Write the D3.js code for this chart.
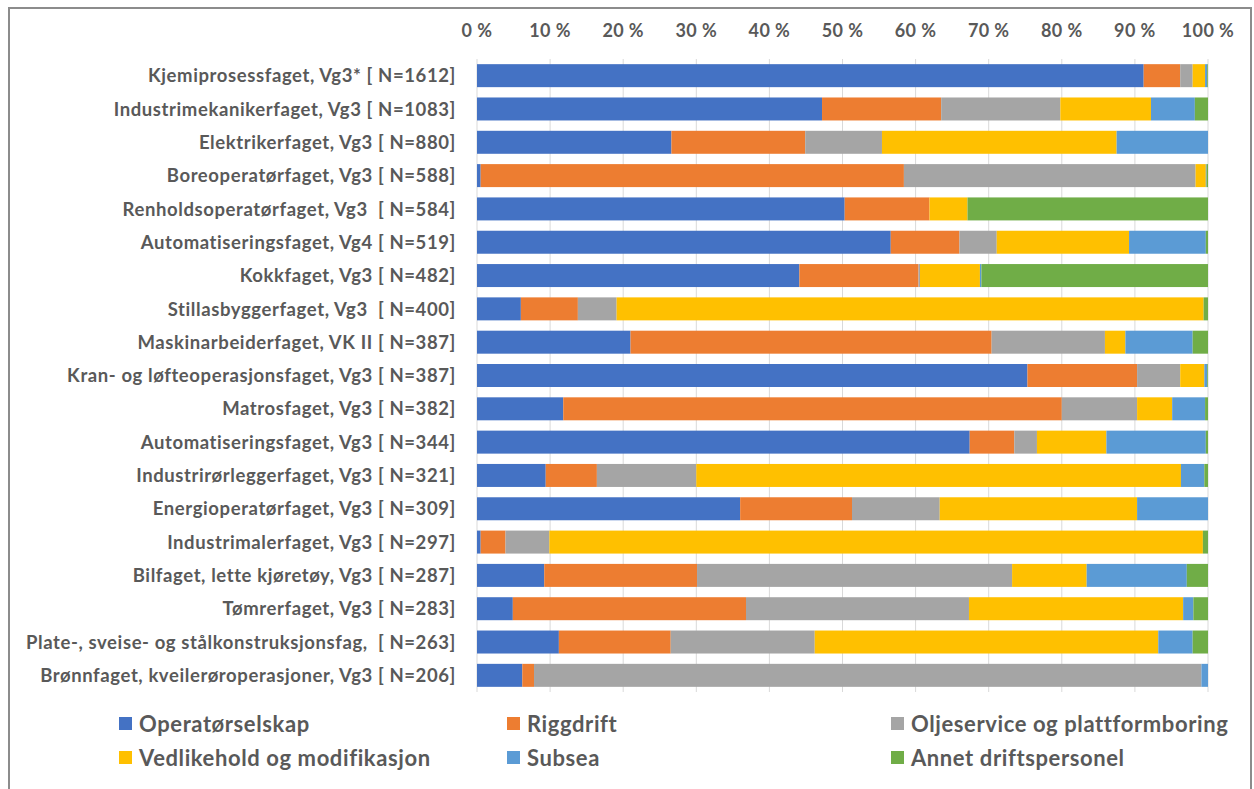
<!DOCTYPE html>
<html>
<head>
<meta charset="utf-8">
<script src="https://cdn.jsdelivr.net/npm/d3@7"></script>
<style>
  body { margin: 0; background: #fff; }
  svg text { font-family: Lato, "Open Sans", sans-serif; font-weight: 700; }
</style>
</head>
<body>
<svg id="chart" width="1254" height="789"></svg>
<script>
// categories (top to bottom)
var categories = [
  "Kjemiprosessfaget, Vg3* [ N=1612]",
  "Industrimekanikerfaget, Vg3 [ N=1083]",
  "Elektrikerfaget, Vg3 [ N=880]",
  "Boreoperatørfaget, Vg3 [ N=588]",
  "Renholdsoperatørfaget, Vg3  [ N=584]",
  "Automatiseringsfaget, Vg4 [ N=519]",
  "Kokkfaget, Vg3 [ N=482]",
  "Stillasbyggerfaget, Vg3  [ N=400]",
  "Maskinarbeiderfaget, VK II [ N=387]",
  "Kran- og løfteoperasjonsfaget, Vg3 [ N=387]",
  "Matrosfaget, Vg3 [ N=382]",
  "Automatiseringsfaget, Vg3 [ N=344]",
  "Industrirørleggerfaget, Vg3 [ N=321]",
  "Energioperatørfaget, Vg3 [ N=309]",
  "Industrimalerfaget, Vg3 [ N=297]",
  "Bilfaget, lette kjøretøy, Vg3 [ N=287]",
  "Tømrerfaget, Vg3 [ N=283]",
  "Plate-, sveise- og stålkonstruksjonsfag,  [ N=263]",
  "Brønnfaget, kveilerøroperasjoner, Vg3 [ N=206]"
];

var seriesNames = ["Operatørselskap", "Riggdrift", "Oljeservice og plattformboring",
                   "Vedlikehold og modifikasjon", "Subsea", "Annet driftspersonel"];

// percent values per series, same order as categories
var operator    = [91.2, 47.2, 26.6,  0.5, 50.3, 56.6, 44.1,  6.0, 21.0, 75.3, 11.8, 67.4,  9.4, 36.0,  0.5,  9.2,  4.9, 11.2,  6.2];
var riggdrift   = [ 5.0, 16.3, 18.3, 57.9, 11.6,  9.4, 16.3,  7.8, 49.4, 15.0, 68.2,  6.1,  7.0, 15.3,  3.4, 20.9, 31.9, 15.3,  1.6];
var oljeservice = [ 1.7, 16.3, 10.5, 39.9,  0.0,  5.1,  0.2,  5.3, 15.5,  5.9, 10.3,  3.1, 13.6, 12.0,  6.0, 43.1, 30.5, 19.7, 91.3];
var vedlikehold = [ 1.7, 12.4, 32.1,  1.4,  5.2, 18.1,  8.2, 80.3,  2.8,  3.3,  4.8,  9.5, 66.3, 27.0, 89.4, 10.2, 29.3, 47.0,  0.0];
var subsea      = [ 0.3,  6.0, 12.5,  0.1,  0.0, 10.5,  0.2,  0.0,  9.2,  0.4,  4.5, 13.6,  3.2,  9.7,  0.0, 13.7,  1.4,  4.7,  0.9];
var annet       = [ 0.1,  1.8,  0.0,  0.2, 32.9,  0.3, 31.0,  0.6,  2.1,  0.1,  0.4,  0.3,  0.5,  0.0,  0.7,  2.9,  2.0,  2.1,  0.0];

var ticks = [0, 10, 20, 30, 40, 50, 60, 70, 80, 90, 100];
var colors = ["#4472C4", "#ED7D31", "#A5A5A5", "#FFC000", "#5B9BD5", "#70AD47"];

var rows = categories.map(function(c, i){
    return { cat: c, values: [operator[i], riggdrift[i], oljeservice[i], vedlikehold[i], subsea[i], annet[i]] };
});

var svg = d3.select("#chart");

// frame
svg.append("path")
    .attr("d", "M9,800 V8 H1251 V800")
    .attr("fill", "none").attr("stroke", "#8c8c8c").attr("stroke-width", 2);

var x = d3.scaleLinear().domain([0, 100]).range([477, 1208]);
var y = d3.scaleBand().domain(categories).range([59, 692]).paddingInner(0.31).paddingOuter(0.155);

// grid
svg.append("g").selectAll("line")
    .data(ticks).enter().append("line")
    .attr("x1", function(d){ return x(d); }).attr("x2", function(d){ return x(d); })
    .attr("y1", 59).attr("y2", 692)
    .attr("stroke", "#d9d9d9").attr("stroke-width", 1);

// top axis labels
svg.append("g").selectAll("text")
    .data(ticks).enter().append("text")
    .attr("x", function(d){ return x(d); })
    .attr("y", 37)
    .attr("text-anchor", "middle")
    .attr("fill", "#595959")
    .style("font-size", "18px")
    .style("letter-spacing", "0.4px")
    .text(function(d){ return d + " %"; });

// stacked bars
var stack = svg.append("g").selectAll("g")
    .data(rows).enter().append("g");

stack.selectAll("rect")
    .data(function(r){
        var acc = 0;
        return r.values.map(function(v, k){
            var s = { cat: r.cat, x0: acc, x1: acc + v, k: k };
            acc += v;
            return s;
        });
    })
    .enter().append("rect")
    .attr("x", function(d){ return x(d.x0); })
    .attr("width", function(d){ return Math.max(0, x(Math.min(d.x1, 100)) - x(d.x0)); })
    .attr("y", function(d){ return y(d.cat); })
    .attr("height", y.bandwidth())
    .attr("fill", function(d){ return colors[d.k]; });

// category labels
svg.append("g").selectAll("text")
    .data(categories).enter().append("text")
    .attr("x", 456)
    .attr("y", function(d){ return y(d) + y.bandwidth() / 2; })
    .attr("dy", "0.36em")
    .attr("text-anchor", "end")
    .attr("fill", "#595959")
    .style("font-size", "18.5px")
    .style("letter-spacing", "0.6px")
    .style("white-space", "pre")
    .text(function(d){ return d; });

// legend
var legendX = [119, 507, 891];
var legendY = [724, 758];
var legend = svg.append("g").selectAll("g")
    .data(seriesNames).enter().append("g")
    .attr("transform", function(d, i){
        return "translate(" + legendX[i % 3] + "," + legendY[Math.floor(i / 3)] + ")";
    });
legend.append("rect")
    .attr("x", 0).attr("y", -7).attr("width", 13).attr("height", 13)
    .attr("fill", function(d, i){ return colors[i]; });
legend.append("text")
    .attr("x", 20).attr("y", 0).attr("dy", "0.36em")
    .attr("fill", "#595959")
    .style("font-size", "22px")
    .style("letter-spacing", "0.6px")
    .text(function(d){ return d; });
</script>
</body>
</html>
